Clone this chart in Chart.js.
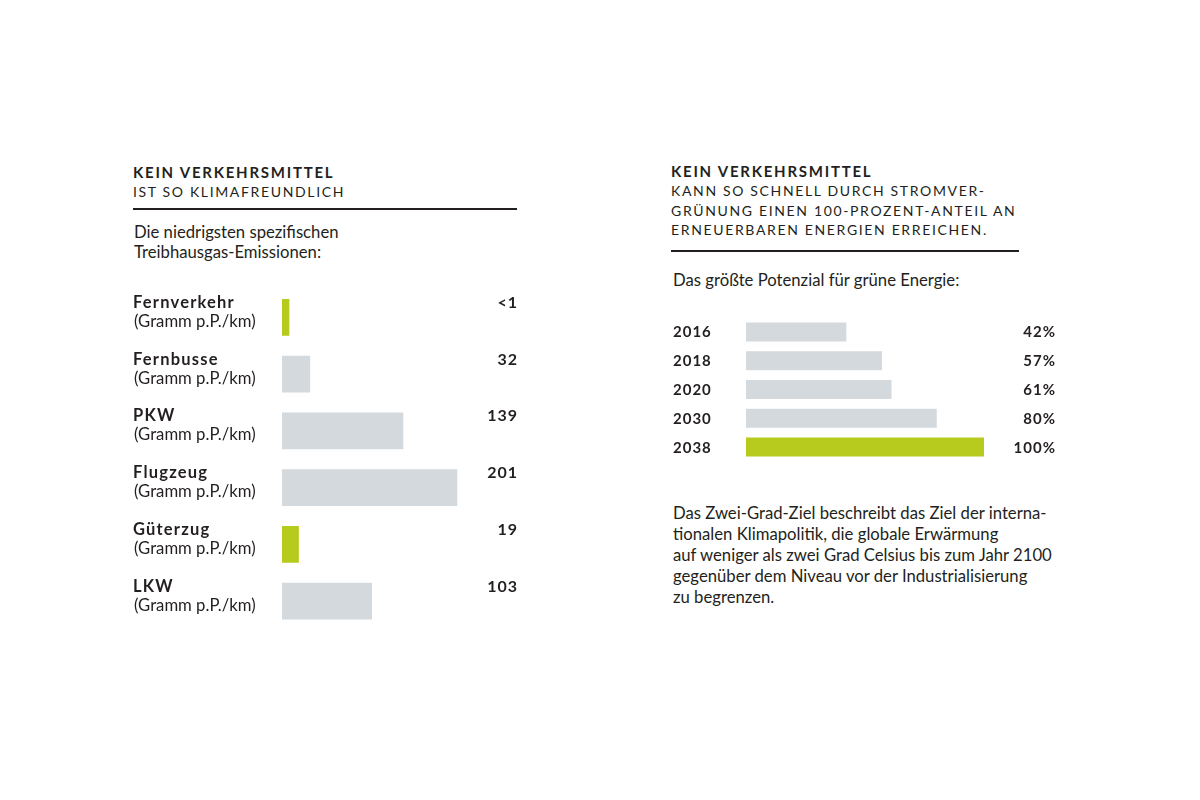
<!DOCTYPE html>
<html><head><meta charset="utf-8">
<script src="https://cdn.jsdelivr.net/npm/chart.js@4"></script>
<style>
html,body{margin:0;padding:0;background:#fff;}
body{width:1200px;height:800px;position:relative;overflow:hidden;font-family:Lato,sans-serif;color:#231f20;}
.t{position:absolute;white-space:nowrap;margin:0;}
.h{font-size:14px;letter-spacing:1.65px;line-height:19.3px;}
.h b{font-weight:700;font-size:15px;letter-spacing:1.75px;}
.p{font-size:16.7px;line-height:20px;}
.q{font-size:16.7px;line-height:21px;}
.rule{position:absolute;height:1.5px;background:#231f20;}
canvas{position:absolute;}
</style></head>
<body>
<div class="t h" style="left:133px;top:163px;"><b>KEIN VERKEHRSMITTEL</b><br>IST SO KLIMAFREUNDLICH</div>
<div class="rule" style="left:133px;top:208px;width:384px;"></div>
<div class="t p" style="left:134px;top:222px;">Die niedrigsten spezifischen<br>Treibhausgas-Emissionen:</div>

<div class="t h" style="left:671px;top:162px;"><b>KEIN VERKEHRSMITTEL</b><br>KANN SO SCHNELL DURCH STROMVER-<br>GRÜNUNG EINEN 100-PROZENT-ANTEIL AN<br>ERNEUERBAREN ENERGIEN ERREICHEN.</div>
<div class="rule" style="left:671px;top:250px;width:348px;"></div>
<div class="t p" style="left:673px;top:270px;">Das größte Potenzial für grüne Energie:</div>

<div class="t q" style="left:673px;top:503px;">Das Zwei-Grad-Ziel beschreibt das Ziel der interna-<br>tionalen Klimapolitik, die globale Erwärmung<br>auf weniger als zwei Grad Celsius bis zum Jahr 2100<br>gegenüber dem Niveau vor der Industrialisierung<br>zu begrenzen.</div>

<canvas id="c1" width="410" height="360" style="left:120px;top:280px;width:410px;height:360px;"></canvas>
<canvas id="c2" width="410" height="170" style="left:660px;top:305px;width:410px;height:170px;"></canvas>

<script>
// ---- data: left chart ----
const modes = ['Fernverkehr', 'Fernbusse', 'PKW', 'Flugzeug', 'Güterzug', 'LKW'];
const emissions = [0.8, 32, 139, 201, 19, 103];
const emissionLabels = ['<1', '32', '139', '201', '19', '103'];
const unitLabel = '(Gramm p.P./km)';
const railModes = ['Fernverkehr', 'Güterzug'];

// ---- data: right chart ----
const years = ['2016', '2018', '2020', '2030', '2038'];
const shares = [42, 57, 61, 80, 100];
const shareLabels = ['42%', '57%', '61%', '80%', '100%'];

const GREEN = '#b6cb1e';
const GRAY = '#d4d9dd';
const TEXT = '#231f20';

const leftLabels = {
  id: 'leftLabels',
  afterDatasetsDraw(chart) {
    const ctx = chart.ctx, y = chart.scales.y, area = chart.chartArea;
    ctx.save();
    ctx.fillStyle = TEXT;
    ctx.textBaseline = 'alphabetic';
    modes.forEach((m, i) => {
      const cy = y.getPixelForValue(i);
      ctx.font = 'bold 16.5px Lato';
      ctx.letterSpacing = '1.2px';
      ctx.textAlign = 'left';
      ctx.fillText(m, 13, cy - 9.5);
      ctx.font = '16.7px Lato';
      ctx.letterSpacing = '0px';
      ctx.fillText(unitLabel, 14, cy + 9.5);
      ctx.font = 'bold 16px Lato';
      ctx.letterSpacing = '1px';
      ctx.textAlign = 'right';
      ctx.fillText(emissionLabels[i], area.right + 1, cy - 9.5);
    });
    ctx.restore();
  }
};

const rightLabels = {
  id: 'rightLabels',
  afterDatasetsDraw(chart) {
    const ctx = chart.ctx, y = chart.scales.y;
    ctx.save();
    ctx.fillStyle = TEXT;
    ctx.textBaseline = 'alphabetic';
    ctx.font = 'bold 15px Lato';
    ctx.letterSpacing = '1px';
    years.forEach((yr, i) => {
      const cy = y.getPixelForValue(i);
      ctx.textAlign = 'left';
      ctx.fillText(yr, 13, cy + 5.5);
      ctx.textAlign = 'right';
      ctx.fillText(shareLabels[i], 396, cy + 5.5);
    });
    ctx.restore();
  }
};

new Chart(document.getElementById('c1'), {
  type: 'bar',
  data: {
    labels: modes,
    datasets: [{
      data: emissions,
      backgroundColor: modes.map(m => railModes.includes(m) ? GREEN : GRAY),
      barThickness: 36,
      minBarLength: 7,
      borderWidth: 0
    }]
  },
  options: {
    indexAxis: 'y',
    responsive: false,
    animation: false,
    layout: { padding: { left: 162, right: 13, top: 9, bottom: 10.5 } },
    plugins: { legend: { display: false }, tooltip: { enabled: false } },
    scales: {
      x: { display: false, min: 0, max: 270 },
      y: { display: false }
    }
  },
  plugins: [leftLabels]
});

new Chart(document.getElementById('c2'), {
  type: 'bar',
  data: {
    labels: years,
    datasets: [{
      data: shares,
      backgroundColor: shares.map(v => v === 100 ? GREEN : GRAY),
      barThickness: 18.5,
      borderWidth: 0
    }]
  },
  options: {
    indexAxis: 'y',
    responsive: false,
    animation: false,
    layout: { padding: { left: 86, right: 86, top: 12.6, bottom: 13.6 } },
    plugins: { legend: { display: false }, tooltip: { enabled: false } },
    scales: {
      x: { display: false, min: 0, max: 100 },
      y: { display: false }
    }
  },
  plugins: [rightLabels]
});
</script>
</body></html>
